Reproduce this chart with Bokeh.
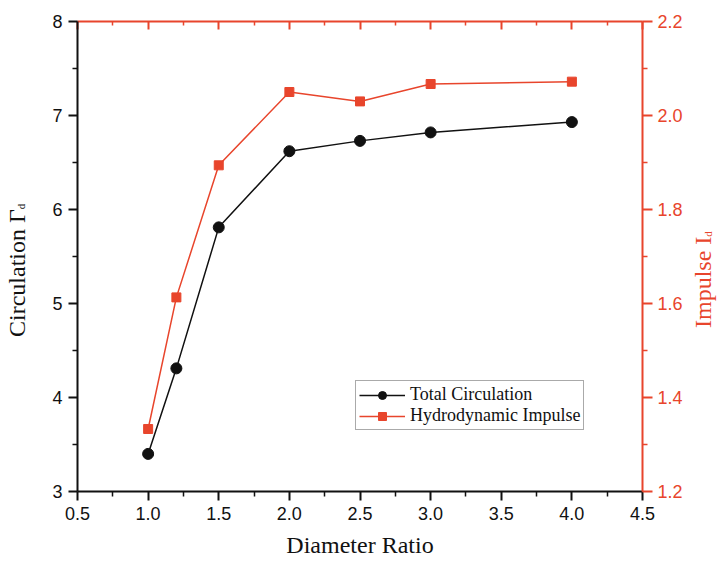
from bokeh.plotting import figure
from bokeh.layouts import row
from bokeh.models import (Range1d, LinearAxis, FixedTicker, NumeralTickFormatter,
                          CustomJSTickFormatter, Legend, LegendItem, Div)
from bokeh.embed import file_html
from bokeh.resources import INLINE

# ---- data ----
ratio = [1.0, 1.2, 1.5, 2.0, 2.5, 3.0, 4.0]
circulation = [3.40, 4.31, 5.81, 6.62, 6.73, 6.82, 6.93]
impulse = [1.333, 1.613, 1.894, 2.050, 2.030, 2.067, 2.072]

x_ticks = [0.5, 1.0, 1.5, 2.0, 2.5, 3.0, 3.5, 4.0, 4.5]
x_minor = [0.75, 1.25, 1.75, 2.25, 2.75, 3.25, 3.75, 4.25]
left_ticks = [3, 4, 5, 6, 7, 8]
left_minor = [3.5, 4.5, 5.5, 6.5, 7.5]
right_ticks = [1.2, 1.4, 1.6, 1.8, 2.0, 2.2]
right_minor = [1.3, 1.5, 1.7, 1.9, 2.1]

x_title = "Diameter Ratio"
left_title = "Circulation Γ"
right_title = "Impulse I"
subscript = "d"
series_names = ["Total Circulation", "Hydrodynamic Impulse"]

BLACK = "#111111"
RED = "#E8452C"
SERIF = "Liberation Serif"
SANS = "Liberation Sans"

LEFT_W = 34
RIGHT_W = 30
FIG_W = 719 - LEFT_W - RIGHT_W

p = figure(width=FIG_W, height=562, output_backend="svg", toolbar_location=None,
           x_range=Range1d(0.5, 4.5), y_range=Range1d(3, 8),
           min_border_left=77 - LEFT_W, min_border_right=FIG_W - (77 - LEFT_W) - 565,
           min_border_top=21, min_border_bottom=71)
p.extra_y_ranges = {"imp": Range1d(1.2, 2.2)}
p.outline_line_color = None
p.background_fill_color = "white"
p.border_fill_color = "white"
p.xgrid.visible = False
p.ygrid.visible = False


def style(ax, color, out_major, out_minor, in_major=0, in_minor=0, standoff=6):
    ax.axis_line_color = color
    ax.axis_line_width = 2
    ax.major_tick_line_color = color
    ax.major_tick_line_width = 2
    ax.minor_tick_line_color = color
    ax.minor_tick_line_width = 1.5
    ax.major_tick_out = out_major
    ax.major_tick_in = in_major
    ax.minor_tick_out = out_minor
    ax.minor_tick_in = in_minor
    ax.major_label_text_color = color
    ax.major_label_text_font = SANS
    ax.major_label_text_font_size = "18px"
    ax.major_label_standoff = standoff


# bottom axis + title
bottom = p.xaxis[0]
bottom.ticker = FixedTicker(ticks=x_ticks, minor_ticks=x_minor)
bottom.formatter = NumeralTickFormatter(format="0.0")
style(bottom, BLACK, 9, 5, standoff=6)
bottom.axis_label = x_title
bottom.axis_label_text_font = SERIF
bottom.axis_label_text_font_size = "24px"
bottom.axis_label_text_font_style = "normal"
bottom.axis_label_text_color = BLACK
bottom.axis_label_standoff = 9

# left axis
left = p.yaxis[0]
left.ticker = FixedTicker(ticks=left_ticks, minor_ticks=left_minor)
left.formatter = NumeralTickFormatter(format="0")
style(left, BLACK, 9, 5, standoff=6)

# right axis
right = LinearAxis(y_range_name="imp",
                   ticker=FixedTicker(ticks=right_ticks, minor_ticks=right_minor),
                   formatter=NumeralTickFormatter(format="0.0"))
style(right, RED, 10, 5, standoff=5)
p.add_layout(right, "right")

# top frame axis (red, inward ticks, no labels)
top = LinearAxis(ticker=FixedTicker(ticks=x_ticks, minor_ticks=x_minor),
                 formatter=CustomJSTickFormatter(code="return ''"))
style(top, RED, 0, 0, in_major=8, in_minor=4, standoff=0)
p.add_layout(top, "above")

# ---- series ----
l1 = p.line(ratio, circulation, line_color=BLACK, line_width=1.5)
s1 = p.scatter(ratio, circulation, marker="circle", size=11,
               fill_color=BLACK, line_color=BLACK)
l2 = p.line(ratio, impulse, line_color=RED, line_width=1.5, y_range_name="imp")
s2 = p.scatter(ratio, impulse, marker="square", size=9,
               fill_color=RED, line_color=RED, y_range_name="imp")

legend = Legend(items=[LegendItem(label=series_names[0], renderers=[l1, s1]),
                       LegendItem(label=series_names[1], renderers=[l2, s2])],
                location=(278, 61), padding=3, spacing=0, margin=0,
                label_standoff=5, glyph_width=46, glyph_height=20, label_height=20,
                label_text_font=SERIF, label_text_font_size="18px",
                label_text_color=BLACK,
                border_line_color="#555555", border_line_width=1,
                background_fill_color="white", background_fill_alpha=1.0)
p.add_layout(legend)


# ---- rotated side titles with a true subscript (read bottom-to-top) ----
def side_title(text, width, color, line_h, pad_top, sub_shift):
    html = ('<div style="padding-top:%dpx;">%s<sub style="font-size:11px;'
            'vertical-align:%dpx;line-height:0;">%s</sub></div>'
            % (pad_top, text, sub_shift, subscript))
    return Div(text=html, width=width, height=562, margin=0,
               styles={"writing-mode": "vertical-rl",
                       "transform": "rotate(180deg)",
                       "font-family": SERIF,
                       "font-size": "24px",
                       "line-height": "%dpx" % line_h,
                       "color": color,
                       "white-space": "nowrap",
                       "background-color": "white"})


left_div = side_title(left_title, LEFT_W, BLACK, 34, 225, -4)
right_div = side_title(right_title, RIGHT_W, RED, 28, 234, -5)

layout = row(left_div, p, right_div, spacing=0)
open("out.html", "w").write(file_html(layout, INLINE))
